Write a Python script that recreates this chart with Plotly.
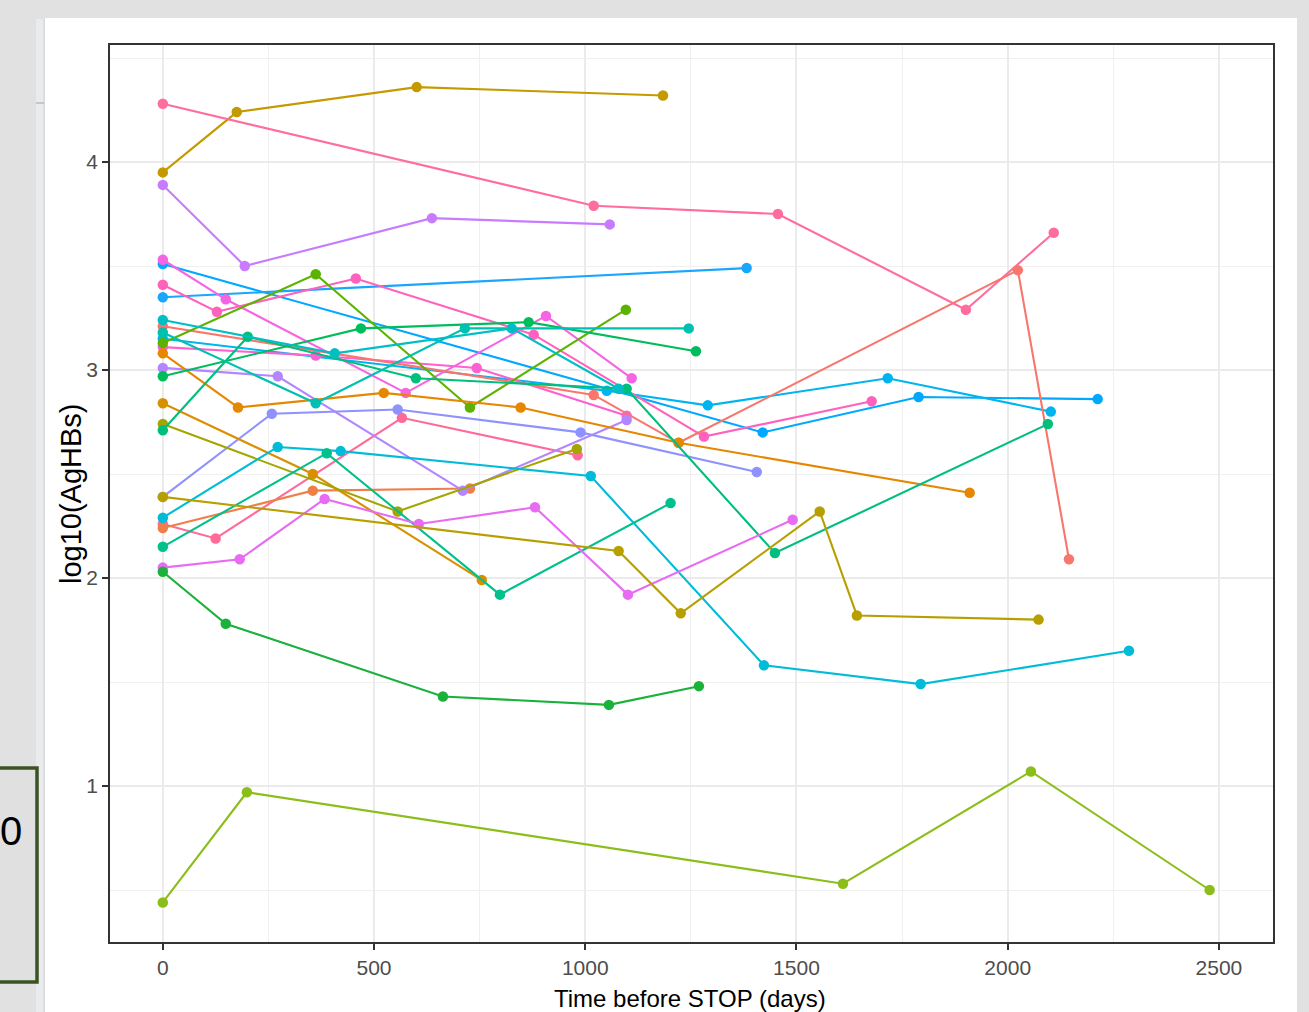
import plotly.graph_objects as go

# Serum HBsAg (log10) per patient against days before treatment stop
days_p01 = [0, 175, 601, 1184]
hbs_p01 = [3.95, 4.24, 4.36, 4.32]
days_p02 = [0, 1020, 1456, 1901, 2109]
hbs_p02 = [4.28, 3.79, 3.75, 3.29, 3.66]
days_p03 = [0, 194, 637, 1058]
hbs_p03 = [3.89, 3.50, 3.73, 3.70]
days_p04 = [0, 1420, 1789, 2213]
hbs_p04 = [3.51, 2.70, 2.87, 2.86]
days_p05 = [0, 1382]
hbs_p05 = [3.35, 3.49]
days_p06 = [0, 1051, 1290, 1716, 2102]
hbs_p06 = [3.15, 2.90, 2.83, 2.96, 2.80]
days_p07 = [0, 149, 575, 907, 1110]
hbs_p07 = [3.53, 3.34, 2.89, 3.26, 2.96]
days_p08 = [0, 128, 457, 878, 1281, 1678]
hbs_p08 = [3.41, 3.28, 3.44, 3.17, 2.68, 2.85]
days_p09 = [0, 362, 743, 1098]
hbs_p09 = [3.11, 3.07, 3.01, 2.78]
days_p10 = [0, 1020, 1221, 2024, 2145]
hbs_p10 = [3.21, 2.88, 2.65, 3.48, 2.09]
days_p11 = [0, 125, 566, 982]
hbs_p11 = [2.26, 2.19, 2.77, 2.59]
days_p12 = [0, 355, 727]
hbs_p12 = [2.24, 2.42, 2.43]
days_p13 = [0, 272, 710, 1098]
hbs_p13 = [3.01, 2.97, 2.42, 2.76]
days_p14 = [0, 258, 556, 989, 1406]
hbs_p14 = [2.39, 2.79, 2.81, 2.70, 2.51]
days_p15 = [0, 362, 727, 1096]
hbs_p15 = [3.13, 3.46, 2.82, 3.29]
days_p16 = [0, 178, 523, 847, 1221, 1910]
hbs_p16 = [3.08, 2.82, 2.89, 2.82, 2.65, 2.41]
days_p17 = [0, 355, 755]
hbs_p17 = [2.84, 2.50, 1.99]
days_p18 = [0, 556, 980]
hbs_p18 = [2.74, 2.32, 2.62]
days_p19 = [0, 201, 599, 1098, 1449, 2095]
hbs_p19 = [2.71, 3.16, 2.96, 2.91, 2.12, 2.74]
days_p20 = [0, 469, 866, 1262]
hbs_p20 = [2.97, 3.20, 3.23, 3.09]
days_p21 = [0, 362, 715, 1245]
hbs_p21 = [3.18, 2.84, 3.20, 3.20]
days_p22 = [0, 407, 826, 1079]
hbs_p22 = [3.24, 3.08, 3.20, 2.91]
days_p23 = [0, 272, 421, 1013, 1423, 1794, 2287]
hbs_p23 = [2.29, 2.63, 2.61, 2.49, 1.58, 1.49, 1.65]
days_p24 = [0, 388, 798, 1202]
hbs_p24 = [2.15, 2.60, 1.92, 2.36]
days_p25 = [0, 182, 383, 606, 881, 1101, 1491]
hbs_p25 = [2.05, 2.09, 2.38, 2.26, 2.34, 1.92, 2.28]
days_p26 = [0, 1079, 1226, 1555, 1643, 2073]
hbs_p26 = [2.39, 2.13, 1.83, 2.32, 1.82, 1.80]
days_p27 = [0, 149, 663, 1056, 1269]
hbs_p27 = [2.03, 1.78, 1.43, 1.39, 1.48]
days_p28 = [0, 199, 1610, 2055, 2478]
hbs_p28 = [0.44, 0.97, 0.53, 1.07, 0.50]

x_ticks = [0, 500, 1000, 1500, 2000, 2500]
y_ticks = [1, 2, 3, 4]

patients = [
    ("p01", days_p01, hbs_p01, "#C49A00"),
    ("p02", days_p02, hbs_p02, "#FF6C9E"),
    ("p03", days_p03, hbs_p03, "#C77CFF"),
    ("p04", days_p04, hbs_p04, "#00A9FF"),
    ("p05", days_p05, hbs_p05, "#1AA5FF"),
    ("p06", days_p06, hbs_p06, "#00B4F0"),
    ("p07", days_p07, hbs_p07, "#F564E3"),
    ("p08", days_p08, hbs_p08, "#FF62BC"),
    ("p09", days_p09, hbs_p09, "#FD61D1"),
    ("p10", days_p10, hbs_p10, "#F8766D"),
    ("p11", days_p11, hbs_p11, "#FF6A98"),
    ("p12", days_p12, hbs_p12, "#EF7F49"),
    ("p13", days_p13, hbs_p13, "#B385FF"),
    ("p14", days_p14, hbs_p14, "#8F91FF"),
    ("p15", days_p15, hbs_p15, "#5BB300"),
    ("p16", days_p16, hbs_p16, "#E58700"),
    ("p17", days_p17, hbs_p17, "#D89000"),
    ("p18", days_p18, hbs_p18, "#A3A500"),
    ("p19", days_p19, hbs_p19, "#00BF7D"),
    ("p20", days_p20, hbs_p20, "#00BD5C"),
    ("p21", days_p21, hbs_p21, "#00C0AF"),
    ("p22", days_p22, hbs_p22, "#00BFC4"),
    ("p23", days_p23, hbs_p23, "#00BCD8"),
    ("p24", days_p24, hbs_p24, "#00C08B"),
    ("p25", days_p25, hbs_p25, "#E76BF3"),
    ("p26", days_p26, hbs_p26, "#B79F00"),
    ("p27", days_p27, hbs_p27, "#1AB23A"),
    ("p28", days_p28, hbs_p28, "#8BBE1B"),
]

FONT = "Liberation Sans, Arial, sans-serif"

fig = go.Figure()
for pid, d, v, col in patients:
    fig.add_trace(go.Scatter(
        x=d, y=v, mode="lines+markers", name=pid,
        line=dict(color=col, width=2.1),
        marker=dict(color=col, size=10.5),
        showlegend=False, hoverinfo="x+y+name",
    ))

W, H = 1309, 1012
ML, MR, MT, MB = 110, 36, 45, 70
PW, PH = W - ML - MR, H - MT - MB


def px_x(p):
    return (p - ML) / PW


def px_y(p):
    return (H - MB - p) / PH


shapes = [
    # white slide area behind the chart
    dict(type="rect", xref="paper", yref="paper", layer="below",
         x0=px_x(45), x1=px_x(1297), y0=px_y(1030), y1=px_y(18),
         fillcolor="white", line=dict(width=0)),
    # narrow side strip at the left edge of the slide
    dict(type="rect", xref="paper", yref="paper", layer="below",
         x0=px_x(36), x1=px_x(44), y0=px_y(1030), y1=px_y(19),
         fillcolor="#e9ebec", line=dict(width=0)),
    dict(type="line", xref="paper", yref="paper", layer="below",
         x0=px_x(44), x1=px_x(44), y0=px_y(1030), y1=px_y(19),
         line=dict(color="#d2d4d5", width=1)),
    dict(type="line", xref="paper", yref="paper", layer="below",
         x0=px_x(36), x1=px_x(44), y0=px_y(103), y1=px_y(103),
         line=dict(color="#b9bbbc", width=1.5)),
    # framed box at the lower left
    dict(type="rect", xref="paper", yref="paper", layer="above",
         x0=px_x(-6), x1=px_x(37), y0=px_y(982), y1=px_y(768),
         fillcolor="#e0e0e0", line=dict(color="#3b5323", width=3.5)),
]

axis_common = dict(
    showgrid=True, gridcolor="#ebebeb", gridwidth=1.6,
    zeroline=False, showline=True, mirror=True,
    linecolor="#333333", linewidth=1.8,
    ticks="outside", ticklen=6, tickwidth=1.6, tickcolor="#333333",
    tickfont=dict(family=FONT, size=21, color="#4d4d4d"),
)

fig.update_layout(
    width=W, height=H,
    margin=dict(l=ML, r=MR, t=MT, b=MB, pad=0),
    paper_bgcolor="#e1e1e1",
    plot_bgcolor="white",
    shapes=shapes,
    xaxis=dict(
        range=[-125, 2628], tickmode="array", tickvals=x_ticks,
        ticktext=[str(t) for t in x_ticks],
        minor=dict(tickmode="array", tickvals=[250, 750, 1250, 1750, 2250],
                   showgrid=True, gridcolor="#f0f0f0", gridwidth=1.2, ticks=""),
        **axis_common,
    ),
    yaxis=dict(
        range=[0.25, 4.5625], tickmode="array", tickvals=y_ticks,
        ticktext=[str(t) for t in y_ticks],
        minor=dict(tickmode="array", tickvals=[0.5, 1.5, 2.5, 3.5, 4.5],
                   showgrid=True, gridcolor="#f0f0f0", gridwidth=1.2, ticks=""),
        **axis_common,
    ),
    annotations=[
        dict(text="Time before STOP (days)", xref="paper", yref="paper",
             x=px_x(690), y=px_y(998), xanchor="center", yanchor="middle",
             showarrow=False, font=dict(family=FONT, size=24, color="black")),
        dict(text="log10(AgHBs)", xref="paper", yref="paper",
             x=px_x(71), y=px_y(494), xanchor="center", yanchor="middle",
             textangle=-90, showarrow=False,
             font=dict(family=FONT, size=29, color="black")),
        dict(text="0", xref="paper", yref="paper",
             x=px_x(11), y=px_y(831), xanchor="center", yanchor="middle",
             showarrow=False, font=dict(family=FONT, size=40, color="black")),
    ],
)

fig.write_html("out.html")
